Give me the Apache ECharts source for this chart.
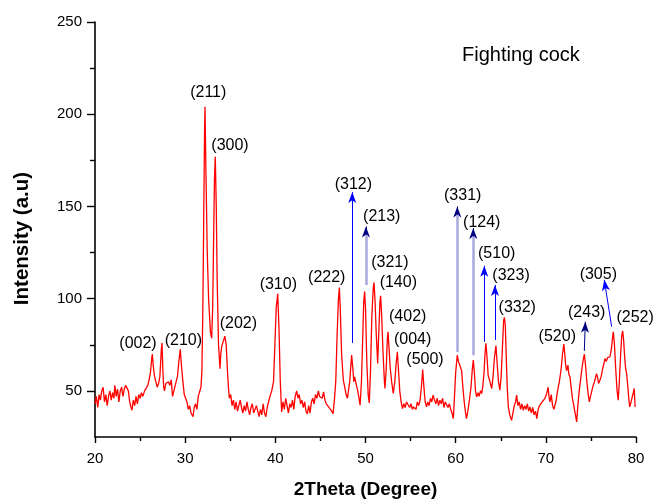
<!DOCTYPE html>
<html>
<head>
    <meta charset="utf-8">
    <title>XRD - Fighting cock</title>
    <script src="https://cdn.jsdelivr.net/npm/echarts@6/dist/echarts.min.js"></script>
    <style>
        html, body { margin: 0; padding: 0; background: #fff; }
    </style>
</head>
<body>
    <div id="main" style="width:656px; height:501px;"></div>

    <script type="text/javascript">
        // diffraction trace
        var twoTheta = [
            20.0, 20.15, 20.3, 20.45, 20.6, 20.75, 20.9, 21.05, 21.2, 21.35,
            21.5, 21.65, 21.8, 21.95, 22.1, 22.2, 22.35, 22.5, 22.65, 22.8,
            22.95, 23.1, 23.25, 23.4, 23.55, 23.7, 23.85, 24.0, 24.1, 24.25,
            24.4, 24.55, 24.7, 24.85, 25.0, 25.15, 25.3, 25.5, 25.7, 25.85,
            26.0, 26.15, 26.3, 26.36, 26.45, 26.6, 26.75, 26.9, 27.05, 27.2,
            27.35, 27.43, 27.52, 27.62, 27.7, 27.85, 28.0, 28.15, 28.3, 28.45,
            28.6, 28.7, 28.85, 29.0, 29.15, 29.3, 29.46, 29.6, 29.75, 29.9,
            30.05, 30.2, 30.35, 30.5, 30.65, 30.8, 30.87, 31.0, 31.15, 31.3,
            31.45, 31.6, 31.75, 31.85, 31.95, 32.05, 32.15, 32.2, 32.3, 32.45,
            32.6, 32.8, 32.94, 33.05, 33.15, 33.25, 33.34, 33.45, 33.55, 33.7,
            33.86, 33.95, 34.05, 34.2, 34.4, 34.55, 34.7, 34.8, 34.9, 35.05,
            35.2, 35.35, 35.5, 35.65, 35.8, 35.95, 36.1, 36.25, 36.4, 36.55,
            36.7, 36.85, 37.0, 37.15, 37.3, 37.45, 37.6, 37.75, 37.9, 38.05,
            38.2, 38.35, 38.5, 38.65, 38.8, 38.95, 39.1, 39.25, 39.4, 39.6,
            39.8, 39.95, 40.1, 40.26, 40.4, 40.55, 40.7, 40.85, 41.0, 41.15,
            41.3, 41.45, 41.6, 41.75, 41.9, 42.05, 42.2, 42.37, 42.5, 42.65,
            42.8, 42.95, 43.1, 43.25, 43.4, 43.55, 43.7, 43.85, 44.0, 44.15,
            44.3, 44.45, 44.6, 44.77, 44.9, 45.05, 45.2, 45.35, 45.5, 45.65,
            45.8, 45.95, 46.1, 46.25, 46.4, 46.55, 46.7, 46.85, 47.0, 47.1,
            47.2, 47.35, 47.54, 47.7, 47.85, 48.0, 48.1, 48.25, 48.46, 48.6,
            48.7, 48.8, 48.95, 49.1, 49.25, 49.4, 49.55, 49.7, 49.8, 49.9,
            50.0, 50.15, 50.3, 50.42, 50.55, 50.7, 50.85, 50.94, 51.05, 51.2,
            51.35, 51.5, 51.6, 51.68, 51.8, 51.95, 52.1, 52.16, 52.3, 52.42,
            52.5, 52.6, 52.75, 52.9, 53.08, 53.25, 53.4, 53.53, 53.65, 53.8,
            53.95, 54.1, 54.25, 54.4, 54.55, 54.75, 54.9, 55.05, 55.2, 55.3,
            55.45, 55.6, 55.75, 55.9, 56.05, 56.2, 56.34, 56.48, 56.62, 56.77,
            56.9, 57.05, 57.2, 57.35, 57.5, 57.65, 57.8, 57.95, 58.1, 58.25,
            58.4, 58.55, 58.7, 58.85, 59.0, 59.15, 59.3, 59.45, 59.6, 59.74,
            59.85, 60.0, 60.18, 60.3, 60.45, 60.66, 60.8, 60.95, 61.1, 61.2,
            61.35, 61.5, 61.7, 61.85, 61.96, 62.1, 62.2, 62.33, 62.48, 62.6,
            62.75, 62.88, 63.0, 63.15, 63.25, 63.36, 63.48, 63.6, 63.75, 63.9,
            64.0, 64.15, 64.3, 64.47, 64.6, 64.75, 64.9, 65.05, 65.2, 65.32,
            65.4, 65.5, 65.6, 65.72, 65.84, 66.0, 66.2, 66.35, 66.5, 66.65,
            66.76, 66.9, 67.05, 67.2, 67.35, 67.5, 67.65, 67.8, 67.95, 68.1,
            68.24, 68.4, 68.55, 68.7, 68.85, 69.0, 69.15, 69.3, 69.45, 69.6,
            69.75, 69.9, 70.0, 70.1, 70.25, 70.35, 70.46, 70.6, 70.75, 70.9,
            71.0, 71.15, 71.3, 71.5, 71.7, 71.85, 72.0, 72.1, 72.2, 72.3,
            72.45, 72.55, 72.68, 72.8, 72.95, 73.1, 73.25, 73.42, 73.55, 73.7,
            73.85, 74.0, 74.15, 74.27, 74.4, 74.55, 74.7, 74.83, 74.95, 75.1,
            75.25, 75.4, 75.55, 75.63, 75.75, 75.85, 76.0, 76.15, 76.3, 76.45,
            76.56, 76.7, 76.85, 77.0, 77.1, 77.25, 77.38, 77.48, 77.6, 77.75,
            77.9, 78.03, 78.15, 78.3, 78.42, 78.52, 78.62, 78.75, 78.85, 78.96,
            79.1, 79.2, 79.3, 79.45, 79.6, 79.7, 79.8, 79.9
        ];
        var intensity = [
            43, 47, 41, 48, 45, 50, 52, 44, 48, 42,
            47, 50, 45, 49, 46, 53, 47, 51, 44, 50,
            52, 47, 51, 53, 54, 50, 44, 41, 39.5, 45,
            42, 47, 43, 48, 46, 49, 47, 50, 51, 53,
            56, 60, 68, 70, 64, 58, 55, 52, 54, 58,
            72, 76, 62, 52, 50, 54, 53, 55, 53, 56,
            47, 46, 52, 55, 58, 66, 72.5, 63, 55, 48,
            46, 44, 40, 42, 38, 37, 36, 41, 43, 40,
            47, 46, 52, 60, 90, 140, 190, 204, 170, 125,
            100, 82, 78.6, 95, 130, 165, 177, 150, 110, 75,
            62, 70, 74, 75, 79.7, 75, 60, 52, 46, 48,
            42, 45, 40, 44, 39, 42, 45, 41, 38, 42,
            39, 44, 40, 37, 41, 43, 38, 37, 42, 39,
            36, 40, 37, 43, 38, 36, 41, 44, 47, 50,
            55, 75, 95, 102.6, 85, 55, 38.6, 44, 40, 46,
            42, 38, 43, 41, 45, 40, 47, 50, 46, 48,
            43, 45, 41, 44, 39, 37.5, 42, 38, 44, 46,
            43, 48, 46, 50, 47, 48, 46, 49.5, 45, 43,
            44, 41, 42, 39, 37.7, 45, 55, 80, 100, 106,
            95, 70, 55.8, 52, 48, 46, 45, 55, 69.4, 62,
            55, 57.6, 54, 51, 47, 42.2, 55, 80, 98, 103.8,
            95, 65, 48, 43.5, 60, 90, 105, 108.7, 100, 80,
            64.9, 85, 98, 101.5, 90, 70, 55, 51.3, 62, 78,
            82, 74, 62, 55, 48.6, 55, 65, 71.2, 62, 50,
            44, 40.4, 43, 41, 44, 45, 41, 43, 40, 41.3,
            42, 40, 44, 42, 45, 52, 61.6, 52, 44, 41.3,
            44, 42, 46, 44, 47.7, 45, 43, 46, 42, 45,
            43, 46, 41, 44, 44, 41, 43, 40, 38, 35,
            45, 60, 69.4, 66, 64, 61, 52, 44, 38, 35,
            39, 44, 52, 62, 66.7, 58, 50, 46.7, 49, 47,
            50, 48.6, 52, 60, 70, 75.8, 68, 58.5, 56, 53,
            51.3, 58, 68, 74.5, 65, 55, 50.4, 58, 75, 88,
            89.9, 86, 70, 52, 41.3, 37, 34, 38, 42, 44,
            47.7, 42, 44, 40, 43, 39.5, 42, 40, 43, 39,
            41.3, 38, 41, 37, 39, 35, 40, 42, 41, 44,
            43, 46, 47, 48.6, 52, 47, 44, 48, 42, 40,
            39.5, 45, 50, 55, 62, 70, 75.4, 70, 64, 61,
            64, 59, 57.6, 52, 46, 42, 38, 33.2, 42, 50,
            56, 62, 67, 70, 64, 55, 48, 44, 47, 50,
            53, 55, 58, 59.4, 57, 54, 55.8, 58, 62, 65,
            67.6, 66, 68, 67, 68.5, 72, 78, 82, 76, 62,
            50, 45, 55, 70, 80, 82.6, 78, 68, 62, 59.4,
            52, 46, 41.3, 44, 47, 49, 51.3, 41.3
        ];

        // Miller index labels and where their text sits (2theta, intensity)
        var peakNames = ['(002)', '(210)', '(211)', '(300)', '(202)', '(310)', '(222)', '(312)',
                         '(213)', '(321)', '(140)', '(402)', '(004)', '(500)', '(331)', '(124)',
                         '(510)', '(323)', '(332)', '(520)', '(243)', '(305)', '(252)'];
        var peakLabelX = [24.77, 29.8, 32.56, 34.97, 35.9, 40.33, 45.7, 48.65,
                          51.8, 52.7, 53.64, 54.68, 55.23, 56.6, 60.78, 62.89,
                          64.55, 66.14, 66.83, 71.27, 74.53, 75.82, 79.9];
        var peakLabelY = [75.4, 77.3, 211.6, 183.2, 86.6, 107.8, 111.6, 161.8,
                          144.6, 119.4, 108.7, 90.2, 77.6, 66.7, 155.8, 141.3,
                          124.3, 112.3, 95.3, 79.7, 92.6, 113.3, 89.9];

        // arrows: [x from, y from, x to, y to, kind]
        var arrows = [
            [48.53, 76.0, 48.53, 157.8, 'blue'],
            [50.05, 107.4, 50.05, 139.1, 'pale'],
            [60.18, 71.2, 60.18, 150.0, 'pale'],
            [61.95, 69.4, 61.95, 138.3, 'pale'],
            [63.17, 76.6, 63.17, 117.8, 'blue'],
            [64.36, 77.6, 64.36, 107.4, 'blue'],
            [74.27, 71.7, 74.38, 87.5, 'navy'],
            [77.30, 84.8, 76.48, 110.2, 'blue']
        ];

        var FONT = '"Liberation Sans", Arial, Helvetica, sans-serif';

        var traceData = twoTheta.map(function(t, i) { return [t, intensity[i]]; });
        var labelData = peakNames.map(function(n, i) {
            return { name: n, value: [peakLabelX[i], peakLabelY[i]] };
        });

        var arrowLines = [];
        var paleLines = [];
        arrows.forEach(function(a) {
            var col = a[4] === 'blue' ? '#0000ff' : '#000080';
            arrowLines.push([
                { coord: [a[0], a[1]], lineStyle: { color: col, width: 1 } },
                { coord: [a[2], a[3]] }
            ]);
            if (a[4] === 'pale') {
                // lighter shaft under a navy head
                paleLines.push([
                    { coord: [a[0], a[1]] },
                    { coord: [a[2], a[3] - 4.5] }
                ]);
            }
        });

        var myChart = echarts.init(document.getElementById('main'), null, { renderer: 'canvas' });

        myChart.setOption({
            animation: false,
            backgroundColor: '#ffffff',
            title: {
                text: 'Fighting cock',
                left: 457,
                top: 40,
                textStyle: { fontFamily: FONT, fontSize: 20, fontWeight: 'normal', color: '#000' }
            },
            grid: { left: 95, right: 20, top: 22, bottom: 64, containLabel: false, outerBoundsMode: 'none' },
            xAxis: {
                type: 'value',
                min: 20,
                max: 80,
                interval: 10,
                name: '2Theta (Degree)',
                nameLocation: 'middle',
                nameGap: 43,
                nameTextStyle: { fontFamily: FONT, fontSize: 19, fontWeight: 'bold', color: '#000' },
                axisLine: { show: true, onZero: false, lineStyle: { color: '#000', width: 1.6 } },
                axisTick: { show: true, inside: false, length: 6, lineStyle: { color: '#000', width: 1.4 } },
                minorTick: { show: true, splitNumber: 2, length: 4, lineStyle: { color: '#000', width: 1.4 } },
                axisLabel: { margin: 14, fontFamily: FONT, fontSize: 15, color: '#000' },
                splitLine: { show: false }
            },
            yAxis: [
                {
                    type: 'value',
                    min: 25,
                    max: 250,
                    name: 'Intensity (a.u)',
                    nameLocation: 'middle',
                    nameGap: 62,
                    nameTextStyle: { fontFamily: FONT, fontSize: 20.5, fontWeight: 'bold', color: '#000', padding: [0, 18, 0, 0] },
                    axisLine: { show: true, onZero: false, lineStyle: { color: '#000', width: 1.6 } },
                    axisTick: { show: true, inside: false, length: 8, customValues: [50, 100, 150, 200, 250],
                                lineStyle: { color: '#000', width: 1.4 } },
                    axisLabel: { margin: 13, fontFamily: FONT, fontSize: 15, color: '#000',
                                 customValues: [50, 100, 150, 200, 250] },
                    splitLine: { show: false }
                },
                {
                    // second copy only for the short in-between ticks
                    type: 'value',
                    min: 25,
                    max: 250,
                    position: 'left',
                    offset: 0,
                    axisLine: { show: false },
                    axisTick: { show: true, inside: false, length: 5, customValues: [75, 125, 175, 225],
                                lineStyle: { color: '#000', width: 1.4 } },
                    axisLabel: { show: false },
                    splitLine: { show: false }
                }
            ],
            series: [
                {
                    name: 'trace',
                    type: 'line',
                    data: traceData,
                    showSymbol: false,
                    symbol: 'none',
                    lineStyle: { color: '#ff0000', width: 1.3 },
                    z: 3
                },
                {
                    name: 'arrows',
                    type: 'line',
                    data: [],
                    silent: true,
                    z: 4,
                    markLine: {
                        silent: true,
                        symbol: ['none', 'arrow'],
                        symbolSize: [6, 11],
                        label: { show: false },
                        lineStyle: { type: 'solid' },
                        data: arrowLines
                    }
                },
                {
                    name: 'pale shafts',
                    type: 'line',
                    data: [],
                    silent: true,
                    z: 5,
                    markLine: {
                        silent: true,
                        symbol: ['none', 'none'],
                        label: { show: false },
                        lineStyle: { type: 'solid', color: '#a8a8dc', width: 2.5 },
                        data: paleLines
                    }
                },
                {
                    name: 'hkl',
                    type: 'scatter',
                    data: labelData,
                    symbolSize: 0,
                    silent: true,
                    z: 6,
                    itemStyle: { opacity: 0 },
                    label: {
                        show: true,
                        position: 'inside',
                        formatter: '{b}',
                        fontFamily: FONT,
                        fontSize: 16,
                        color: '#000',
                        opacity: 1,
                        textBorderWidth: 0
                    }
                }
            ]
        });
    </script>
</body>
</html>
